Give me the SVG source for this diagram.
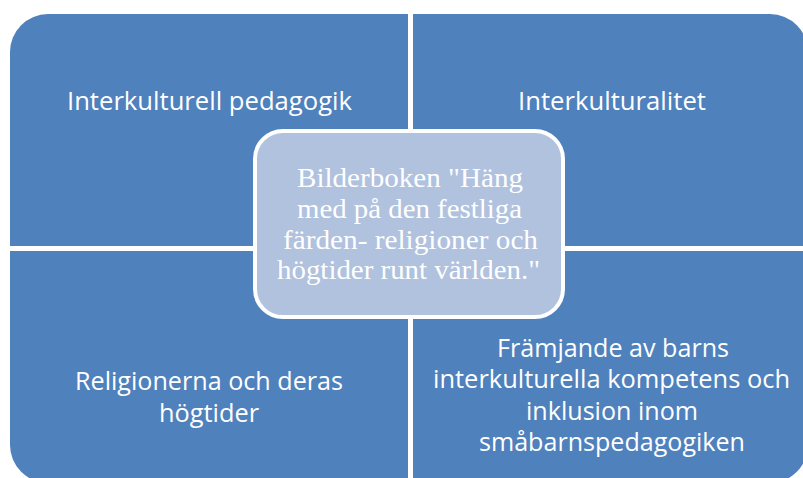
<svg xmlns="http://www.w3.org/2000/svg" width="803" height="478" viewBox="0 0 803 478">
<style>
.q{fill:#4F81BD;}
.qt{font-family:"Open Sans","Noto Sans",sans-serif;font-size:25px;fill:#FFFFFF;text-anchor:middle;}
.c{fill:#B0C2DE;stroke:#FFFFFF;stroke-width:4;}
.ct{font-family:"Liberation Serif","Times New Roman",serif;font-size:27px;fill:#FFFFFF;text-anchor:middle;}
</style>
<rect x="0" y="0" width="803" height="478" fill="#FFFFFF"/>
<g id="node-tl">
<path class="q" d="M10,52 A38,38 0 0 1 48,14 L408,14 L408,246 L10,246 Z"/>
<text class="qt" x="209.5" y="110" textLength="285" lengthAdjust="spacingAndGlyphs">Interkulturell pedagogik</text>
</g>
<g id="node-tr">
<path class="q" d="M413,14 L770,14 A38,38 0 0 1 808,52 L808,246 L413,246 Z"/>
<text class="qt" x="612" y="110" textLength="188" lengthAdjust="spacingAndGlyphs">Interkulturalitet</text>
</g>
<g id="node-bl">
<path class="q" d="M10,251 L408,251 L408,483 L48,483 A38,38 0 0 1 10,445 Z"/>
<text class="qt" x="209" y="390" textLength="268" lengthAdjust="spacingAndGlyphs">Religionerna och deras</text>
<text class="qt" x="209" y="422" textLength="100" lengthAdjust="spacingAndGlyphs">högtider</text>
</g>
<g id="node-br">
<path class="q" d="M413,251 L808,251 L808,445 A38,38 0 0 1 770,483 L413,483 Z"/>
<text class="qt" x="613" y="357" textLength="232" lengthAdjust="spacingAndGlyphs">Främjande av barns</text>
<text class="qt" x="611.5" y="388" textLength="357" lengthAdjust="spacingAndGlyphs">interkulturella kompetens och</text>
<text class="qt" x="612" y="419.5" textLength="172" lengthAdjust="spacingAndGlyphs">inklusion inom</text>
<text class="qt" x="612" y="451" textLength="266" lengthAdjust="spacingAndGlyphs">småbarnspedagogiken</text>
</g>
<g id="node-center">
<rect class="c" x="255" y="131" width="308" height="186" rx="28" ry="28"/>
<text class="ct" x="410" y="187" textLength="226" lengthAdjust="spacingAndGlyphs">Bilderboken "Häng</text>
<text class="ct" x="409.5" y="218" textLength="225" lengthAdjust="spacingAndGlyphs">med på den festliga</text>
<text class="ct" x="410.5" y="248.5" textLength="255" lengthAdjust="spacingAndGlyphs">färden- religioner och</text>
<text class="ct" x="408.5" y="279" textLength="263" lengthAdjust="spacingAndGlyphs">högtider runt världen."</text>
</g>
<g id="connectors"></g>
</svg>
